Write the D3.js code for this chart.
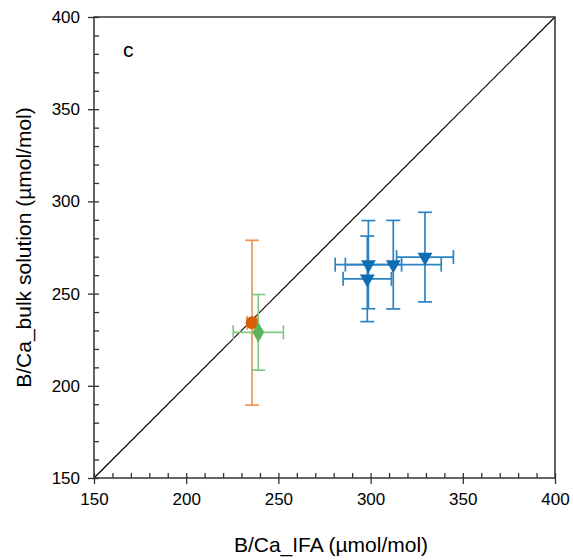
<!DOCTYPE html>
<html lang="en">
<head>
<meta charset="UTF-8">
<title>B/Ca IFA vs bulk solution</title>
<script src="https://d3js.org/d3.v7.min.js"></script>
<style>
    body { margin: 0; background: #fff; }
    text { font-family: "Liberation Sans", Arial, sans-serif; fill: #000; }
</style>
</head>
<body>
<div id="chart"></div>
<script>
    const width = 573;
    const height = 560;
    const margin = { top: 17, right: 18, bottom: 82, left: 94 };

    // data
    const orangeX = [235.7];
    const orangeY = [234.2];
    const orangeXErr = [2.7];
    const orangeYErr = [44.7];

    const greenX = [239.1];
    const greenY = [229.0];
    const greenXErr = [13.6];
    const greenYErr = [20.5];

    const blueX = [298.8, 312.3, 298.2, 329.5];
    const blueY = [265.7, 265.7, 258.0, 269.8];
    const blueXErr = [18.0, 26.0, 13.1, 15.4];
    const blueYErr = [23.9, 24.0, 23.2, 24.3];

    const majorTicks = [150, 200, 250, 300, 350, 400];
    const minorTicks = d3.range(150, 401, 10);
    const domain = [150, 400];

    const svg = d3.select("#chart").append("svg")
        .attr("width", width)
        .attr("height", height);

    const x = d3.scaleLinear().domain(domain).range([margin.left, width - margin.right]);
    const y = d3.scaleLinear().domain(domain).range([height - margin.bottom, margin.top]);

    const axisColor = "#333";

    // 1:1 line
    svg.append("line")
        .attr("x1", x(150)).attr("y1", y(150))
        .attr("x2", x(400)).attr("y2", y(400))
        .attr("stroke", "#000").attr("stroke-width", 1.2);

    // frame
    svg.append("rect")
        .attr("x", x(150)).attr("y", y(400))
        .attr("width", x(400) - x(150)).attr("height", y(150) - y(400))
        .attr("fill", "none").attr("stroke", axisColor).attr("stroke-width", 1.5);

    // minor ticks point inside, major ticks outside
    const xMinor = svg.append("g").attr("transform", `translate(0,${y(150)})`)
        .call(d3.axisTop(x).tickValues(minorTicks).tickSize(5).tickFormat(""));
    const xMajor = svg.append("g").attr("transform", `translate(0,${y(150)})`)
        .call(d3.axisBottom(x).tickValues(majorTicks).tickSize(6).tickPadding(9).tickFormat(d3.format("d")));

    const yMinor = svg.append("g").attr("transform", `translate(${x(150)},0)`)
        .call(d3.axisRight(y).tickValues(minorTicks).tickSize(5).tickFormat(""));
    const yMajor = svg.append("g").attr("transform", `translate(${x(150)},0)`)
        .call(d3.axisLeft(y).tickValues(majorTicks).tickSize(6).tickPadding(8).tickFormat(d3.format("d")));

    [xMinor, xMajor, yMinor, yMajor].forEach(g => {
        g.select(".domain").remove();
        g.selectAll("line").attr("stroke", axisColor).attr("stroke-width", 1.3);
        g.selectAll("text").attr("font-size", 17).attr("fill", "#000")
            .style("font-family", "'Liberation Sans', Arial, sans-serif");
    });

    // axis titles
    svg.append("text")
        .attr("x", 331).attr("y", 552)
        .attr("text-anchor", "middle")
        .attr("font-size", 21)
        .text("B/Ca_IFA (µmol/mol)");

    svg.append("text")
        .attr("transform", `translate(31,${(y(150) + y(400)) / 2}) rotate(-90)`)
        .attr("text-anchor", "middle")
        .attr("font-size", 21)
        .text("B/Ca_bulk solution (µmol/mol)");

    svg.append("text")
        .attr("x", 123).attr("y", 57)
        .attr("font-size", 21)
        .text("c");

    const cap = 7;

    function errorBars(xs, ys, xe, ye, color) {
        const g = svg.append("g").attr("stroke", color).attr("stroke-width", 1.7).attr("fill", "none");
        xs.forEach((xv, i) => {
            const yv = ys[i];
            // vertical
            g.append("line").attr("x1", x(xv)).attr("x2", x(xv))
                .attr("y1", y(yv - ye[i])).attr("y2", y(yv + ye[i]));
            g.append("line").attr("x1", x(xv) - cap).attr("x2", x(xv) + cap)
                .attr("y1", y(yv + ye[i])).attr("y2", y(yv + ye[i]));
            g.append("line").attr("x1", x(xv) - cap).attr("x2", x(xv) + cap)
                .attr("y1", y(yv - ye[i])).attr("y2", y(yv - ye[i]));
            // horizontal
            g.append("line").attr("x1", x(xv - xe[i])).attr("x2", x(xv + xe[i]))
                .attr("y1", y(yv)).attr("y2", y(yv));
            g.append("line").attr("x1", x(xv - xe[i])).attr("x2", x(xv - xe[i]))
                .attr("y1", y(yv) - cap).attr("y2", y(yv) + cap);
            g.append("line").attr("x1", x(xv + xe[i])).attr("x2", x(xv + xe[i]))
                .attr("y1", y(yv) - cap).attr("y2", y(yv) + cap);
        });
    }

    function markers(xs, ys, shape, size, color, rotate) {
        const sym = d3.symbol().type(shape).size(size);
        svg.append("g").selectAll("path")
            .data(xs.map((v, i) => [v, ys[i]]))
            .join("path")
            .attr("d", sym)
            .attr("fill", color)
            .attr("transform", d => `translate(${x(d[0])},${y(d[1])}) rotate(${rotate})`);
    }

    errorBars(blueX, blueY, blueXErr, blueYErr, "#2b84c4");
    markers(blueX, blueY, d3.symbolTriangle, 95, "#0e6db3", 180);

    errorBars(orangeX, orangeY, orangeXErr, orangeYErr, "#ec9552");
    markers(orangeX, orangeY, d3.symbolCircle, 130, "#d65f05", 0);

    errorBars(greenX, greenY, greenXErr, greenYErr, "#82c982");
    markers(greenX, greenY, d3.symbolDiamond, 120, "#5cb15c", 0);
</script>
</body>
</html>
